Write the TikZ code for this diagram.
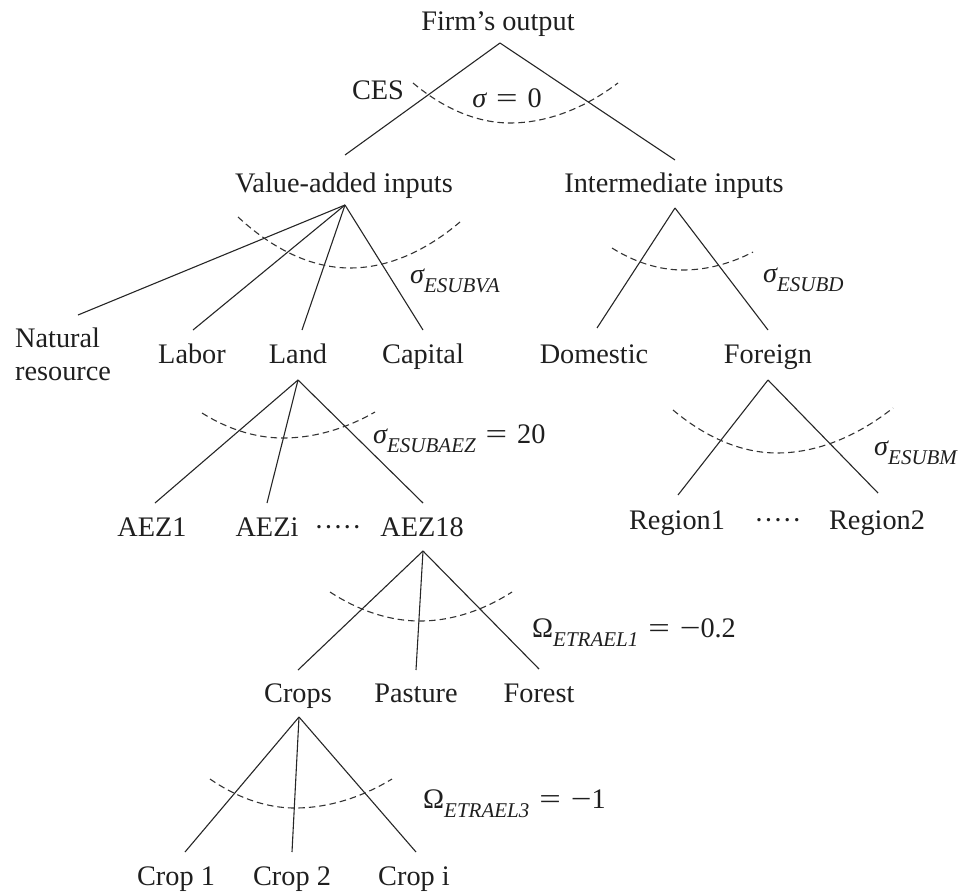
\RequirePackage{fix-cm}
\documentclass[tikz,border=0pt]{standalone}
\usepackage{graphicx}
\usepackage{fontspec}
\setmainfont{Liberation Serif}
% elasticity symbol with a lowered italic subscript and an optional value
\newcommand\elsym[3]{{#1}\raisebox{-9pt}{\fontsize{21}{21}\selectfont\itshape #2}{#3}}
\newcommand\eqval[1]{\hspace{0.35em}\scalebox{1.35}[1]{=}\hspace{0.35em}#1}
\newcommand\mns{\scalebox{1.3}[1]{−}}
\begin{document}
\begin{tikzpicture}[x=1pt,y=-1pt,
  every node/.style={inner sep=0pt, text=black!88, font=\fontsize{28.3}{33}\selectfont},
  lbl/.style={anchor=base},
  elas/.style={anchor=base west},
  link/.style={line width=1.1pt, draw=black!85},
  nest/.style={line width=1.1pt, draw=black!80, dash pattern=on 6.5pt off 4pt}]
\useasboundingbox (0,0) rectangle (963,894);

% ---- labels of the nesting tree
\node[lbl] (firm) at (498,30) {Firm's output};
\node[lbl] (va) at (344,192) {Value-added inputs};
\node[lbl] (int) at (674,192) {Intermediate inputs};
\node[anchor=north west, align=left] (nat) at (15,328) {Natural\\resource};
\node[lbl] (labor) at (192,363) {Labor};
\node[lbl] (land) at (298,363) {Land};
\node[lbl] (capital) at (423,363) {Capital};
\node[lbl] (dom) at (594,363) {Domestic};
\node[lbl] (for) at (768,363) {Foreign};
\node[lbl] (reg1) at (677,529) {Region1};
\node[lbl] (rdots) at (778,529) {·····};
\node[lbl] (reg2) at (877,529) {Region2};
\node[lbl] (aez1) at (152,536) {AEZ1};
\node[lbl] (aezi) at (267,536) {AEZi};
\node[lbl] (adots) at (338,536) {·····};
\node[lbl] (aez18) at (422,536) {AEZ18};
\node[lbl] (crops) at (298,702) {Crops};
\node[lbl] (pasture) at (416,702) {Pasture};
\node[lbl] (forest) at (539,702) {Forest};
\node[lbl] (crop1) at (176,885) {Crop 1};
\node[lbl] (crop2) at (292,885) {Crop 2};
\node[lbl] (cropi) at (414,885) {Crop i};

% ---- elasticities
\node[lbl] (ces) at (378,99) {CES};
\node[lbl] (s0) at (507,107) {{\itshape σ}\eqval{0}};
\node[elas] (sva) at (410,283) {\elsym{\itshape σ}{ESUBVA}{}};
\node[elas] (sd) at (763,282) {\elsym{\itshape σ}{ESUBD}{}};
\node[elas] (sm) at (874,455) {\elsym{\itshape σ}{ESUBM}{}};
\node[elas] (saez) at (373,443) {\elsym{\itshape σ}{ESUBAEZ}{\eqval{20}}};
\node[elas] (om1) at (532,637) {\elsym{Ω}{ETRAEL1}{\eqval{\mns0.2}}};
\node[elas] (om3) at (423,808) {\elsym{Ω}{ETRAEL3}{\eqval{\mns1}}};

% ---- branch junctions (below parents) and branch ends (above children)
\coordinate (firm-j) at (500,43);
\coordinate (va-t) at (345,155);
\coordinate (int-t) at (675,160);
\coordinate (va-j) at (345,205);
\coordinate (nat-t) at (78,315);
\coordinate (labor-t) at (193,330);
\coordinate (land-t) at (302,330);
\coordinate (capital-t) at (423,330);
\coordinate (int-j) at (675,208);
\coordinate (dom-t) at (597,328);
\coordinate (for-t) at (768,330);
\coordinate (for-j) at (768,380);
\coordinate (reg1-t) at (678,495);
\coordinate (reg2-t) at (878,493);
\coordinate (land-j) at (298,380);
\coordinate (aez1-t) at (155,503);
\coordinate (aezi-t) at (267,503);
\coordinate (aez18-t) at (423,503);
\coordinate (aez18-j) at (423,551);
\coordinate (crops-t) at (298,670);
\coordinate (pasture-t) at (416,670);
\coordinate (forest-t) at (539,669);
\coordinate (crops-j) at (299,717);
\coordinate (crop1-t) at (185,852);
\coordinate (crop2-t) at (292,852);
\coordinate (cropi-t) at (416,852);

% ---- branches
\draw[link] (firm-j) -- (va-t);
\draw[link] (firm-j) -- (int-t);
\draw[link] (va-j) -- (nat-t);
\draw[link] (va-j) -- (labor-t);
\draw[link] (va-j) -- (land-t);
\draw[link] (va-j) -- (capital-t);
\draw[link] (int-j) -- (dom-t);
\draw[link] (int-j) -- (for-t);
\draw[link] (for-j) -- (reg1-t);
\draw[link] (for-j) -- (reg2-t);
\draw[link] (land-j) -- (aez1-t);
\draw[link] (land-j) -- (aezi-t);
\draw[link] (land-j) -- (aez18-t);
\draw[link] (aez18-j) -- (crops-t);
\draw[link] (aez18-j) -- (pasture-t);
\draw[link] (aez18-j) -- (forest-t);
\draw[link] (crops-j) -- (crop1-t);
\draw[link] (crops-j) -- (crop2-t);
\draw[link] (crops-j) -- (cropi-t);

% ---- dashed nesting arcs
\draw[nest] (413,83) parabola bend (510,123) (618,83);
\draw[nest] (238,217) parabola bend (350,268) (460,222);
\draw[nest] (612,248) parabola bend (683,270) (753,252);
\draw[nest] (673,410) parabola bend (777,453) (893,408);
\draw[nest] (202,413) parabola bend (283,438) (375,412);
\draw[nest] (330,592) parabola bend (420,621) (512,592);
\draw[nest] (210,779) parabola bend (295,808) (392,779);
\end{tikzpicture}
\end{document}
